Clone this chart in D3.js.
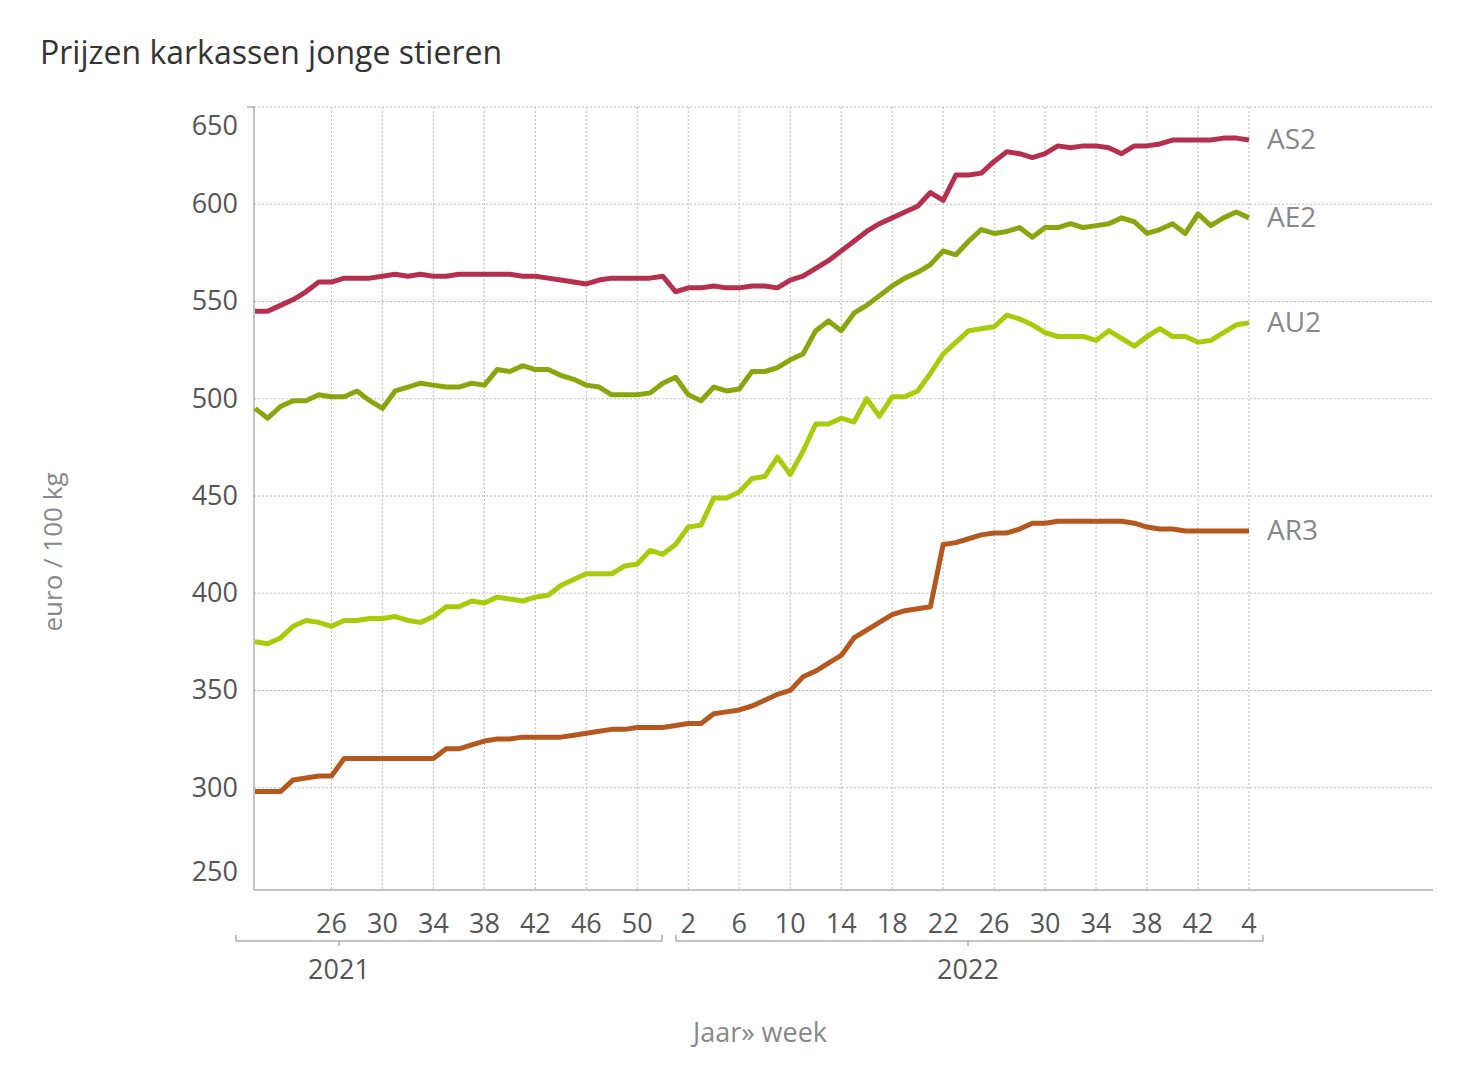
<!DOCTYPE html>
<html><head><meta charset="utf-8">
<script src="https://cdn.jsdelivr.net/npm/d3@7"></script>
<style>body{margin:0;background:#fff}text{font-family:"Open Sans","Noto Sans",sans-serif}</style>
</head><body><svg id="c" width="1466" height="1092"></svg>
<script>
const seriesNames=["AS2","AE2","AU2","AR3"];
const colors=["#b5304f","#8aa60f","#a8cc0a","#b5581f"];
const AS2=[545,545,548,551,555,560,560,562,562,562,563,564,563,564,563,563,564,564,564,564,564,563,563,562,561,560,559,561,562,562,562,562,563,555,557,557,558,557,557,558,558,557,561,563,567,571,576,581,586,590,593,596,599,606,602,615,615,616,622,627,626,624,626,630,629,630,630,629,626,630,630,631,633,633,633,633,634,634,633];
const AE2=[495,490,496,499,499,502,501,501,504,499,495,504,506,508,507,506,506,508,507,515,514,517,515,515,512,510,507,506,502,502,502,503,508,511,502,499,506,504,505,514,514,516,520,523,535,540,535,544,548,553,558,562,565,569,576,574,581,587,585,586,588,583,588,588,590,588,589,590,593,591,585,587,590,585,595,589,593,596,593];
const AU2=[375,374,377,383,386,385,383,386,386,387,387,388,386,385,388,393,393,396,395,398,397,396,398,399,404,407,410,410,410,414,415,422,420,425,434,435,449,449,452,459,460,470,461,473,487,487,490,488,500,491,501,501,504,513,523,529,535,536,537,543,541,538,534,532,532,532,530,535,531,527,532,536,532,532,529,530,534,538,539];
const AR3=[298,298,298,304,305,306,306,315,315,315,315,315,315,315,315,320,320,322,324,325,325,326,326,326,326,327,328,329,330,330,331,331,331,332,333,333,338,339,340,342,345,348,350,357,360,364,368,377,381,385,389,391,392,393,425,426,428,430,431,431,433,436,436,437,437,437,437,437,437,436,434,433,433,432,432,432,432,432,432];
const data=[AS2,AE2,AU2,AR3];
const xTickIdx=[6,10,14,18,22,26,30,34,38,42,46,50,54,58,62,66,70,74,78];
const xTickLabels=["26","30","34","38","42","46","50","2","6","10","14","18","22","26","30","34","38","42","4"];
const yTicks=[250,300,350,400,450,500,550,600,650];
const years=["2021","2022"];

const svg=d3.select("#c");
const x=d3.scaleLinear().domain([0,78]).range([255,1249]);
const y=d3.scaleLinear().domain([247.4,650]).range([890,107]);
const L=254,R=1433;
const grid=svg.append("g");
yTicks.forEach(t=>{ if(t>250) grid.append("line").attr("x1",L).attr("x2",R).attr("y1",y(t)).attr("y2",y(t)).attr("stroke","#bbb").attr("stroke-dasharray","2,2");});
xTickIdx.forEach(i=>grid.append("line").attr("x1",x(i)).attr("x2",x(i)).attr("y1",107).attr("y2",890).attr("stroke","#bbb").attr("stroke-dasharray","2,2"));
svg.append("line").attr("x1",L).attr("x2",L).attr("y1",107).attr("y2",890).attr("stroke","#888");
svg.append("line").attr("x1",L).attr("x2",R).attr("y1",890).attr("y2",890).attr("stroke","#888");
svg.append("line").attr("x1",247).attr("x2",L).attr("y1",107).attr("y2",107).attr("stroke","#888");
yTicks.forEach(t=>{
  let yy=y(t)+9; if(t===650) yy=y(t)+28; if(t===250) yy=y(t)-4;
  svg.append("text").attr("x",238).attr("y",yy).attr("text-anchor","end").attr("font-size",27).attr("fill","#555").text(t);
});
xTickIdx.forEach((i,k)=>{
  svg.append("text").attr("x",x(i)).attr("y",933).attr("text-anchor","middle").attr("font-size",27).attr("fill","#555").text(xTickLabels[k]);
});
[[236,662,339],[676,1263,968]].forEach((b,k)=>{
  svg.append("path").attr("d",`M${b[0]},935 L${b[0]},941 L${b[1]},941 L${b[1]},935`).attr("fill","none").attr("stroke","#888");
  svg.append("line").attr("x1",b[2]).attr("x2",b[2]).attr("y1",941).attr("y2",946).attr("stroke","#888");
  svg.append("text").attr("x",b[2]).attr("y",979).attr("text-anchor","middle").attr("font-size",27).attr("fill","#555").text(years[k]);
});
const line=d3.line().x((d,i)=>x(i)).y(d=>y(d));
data.forEach((s,k)=>{
  svg.append("path").attr("d",line(s)).attr("fill","none").attr("stroke",colors[k]).attr("stroke-width",5).attr("stroke-linejoin","round");
  svg.append("text").attr("x",1267).attr("y",y(s[s.length-1])+9).attr("font-size",28).attr("fill","#888").text(seriesNames[k]);
});
svg.append("text").attr("x",40).attr("y",64).attr("font-size",32).attr("fill","#333").text("Prijzen karkassen jonge stieren");
svg.append("text").attr("transform","translate(62,552) rotate(-90)").attr("text-anchor","middle").attr("font-size",26).attr("fill","#888").text("euro / 100 kg");
svg.append("text").attr("x",760).attr("y",1042).attr("text-anchor","middle").attr("font-size",27).attr("fill","#888").text("Jaar» week");
</script></body></html>
